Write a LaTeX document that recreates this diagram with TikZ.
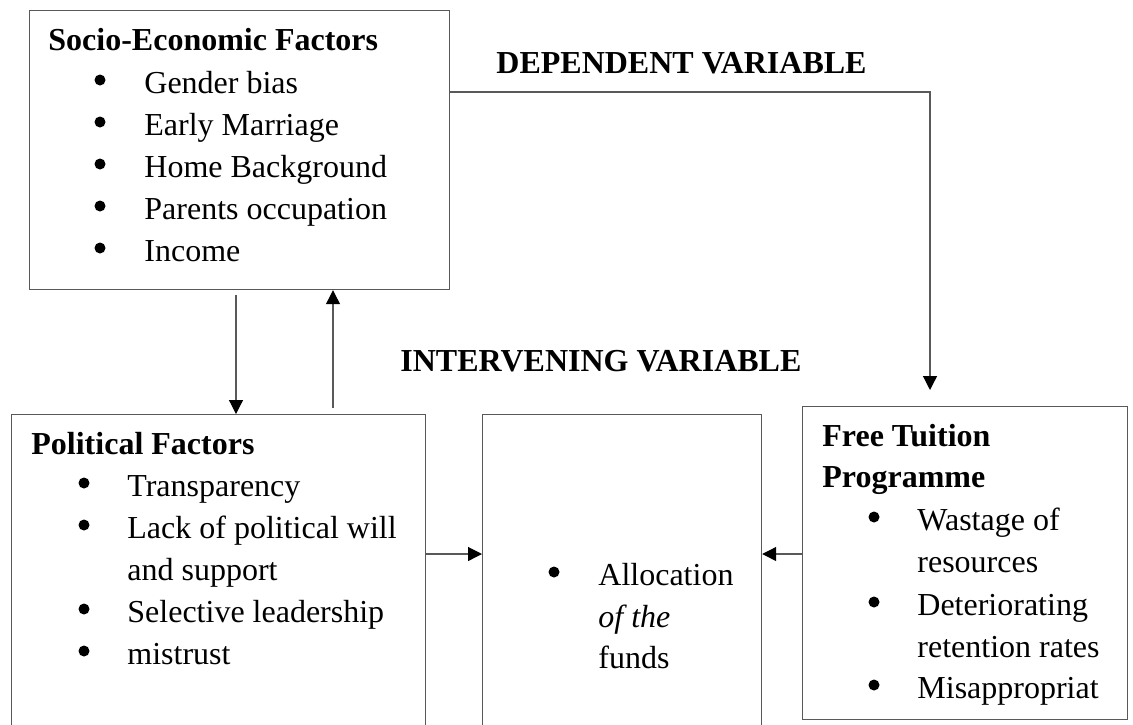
\documentclass[tikz,border=0pt]{standalone}
\usepackage{fontspec}
\setmainfont{Liberation Serif}
\usetikzlibrary{arrows.meta}
\tikzstyle{box} = [rectangle, draw=black!65, line width=0.6pt, anchor=north west, inner sep=0pt]
\tikzstyle{item} = [anchor=base west, inner sep=0pt, font=\fontsize{16pt}{21pt}\selectfont]
\tikzstyle{head} = [item, font=\fontsize{16pt}{21pt}\selectfont\bfseries]
\tikzstyle{dot} = [circle, fill=black, inner sep=0pt, minimum size=5.5pt]
\tikzstyle{arrow} = [line width=0.6pt, draw=black!65, -{Triangle[length=7pt, width=7pt, color=black]}]

\begin{document}
\begin{tikzpicture}[x=0.5pt, y=-0.5pt]
	\useasboundingbox (0,0) rectangle (1133,724);

	% boxes
	\node (socio) [box, minimum width=210pt, minimum height=139.5pt] at (29,10) {};
	\node (pol) [box, minimum width=207pt, minimum height=163pt] at (11,414) {};
	\node (alloc) [box, minimum width=139.5pt, minimum height=163pt] at (482,414) {};
	\node (tuit) [box, minimum width=162.5pt, minimum height=156.5pt] at (802,406) {};

	% socio-economic factors
	\node (sehead) [head] at (48,50) {Socio-Economic Factors};
	\foreach \y/\t [count=\i] in {93/Gender bias, 135/Early Marriage, 177/Home Background, 219/Parents occupation, 261/Income} {
		\node (se\i) [item] at (144,\y) {\t};
		\node (sedot\i) [dot] at (100,\y-13) {};
	}

	% political factors
	\node (pohead) [head] at (31,454) {Political Factors};
	\foreach \y/\b/\t [count=\i] in {496/1/Transparency, 538/1/Lack of political will, 580/0/and support, 622/1/Selective leadership, 664/1/mistrust} {
		\node (po\i) [item] at (127,\y) {\t};
		\ifnum\b=1 \node (podot\i) [dot] at (84,\y-13) {}; \fi
	}

	% allocation
	\node (al1) [item] at (598,585) {Allocation};
	\node (al2) [item] at (598,627) {\textit{of the}};
	\node (al3) [item] at (598,668) {funds};
	\node (aldot) [dot] at (554,572) {};

	% free tuition programme
	\node (fthead1) [head] at (822,446) {Free Tuition};
	\node (fthead2) [head] at (822,487) {Programme};
	\foreach \y/\b/\t [count=\i] in {530/1/Wastage of, 572/0/resources, 615/1/Deteriorating, 657/0/retention rates, 698/1/Misappropriat} {
		\node (ft\i) [item] at (917,\y) {\t};
		\ifnum\b=1 \node (ftdot\i) [dot] at (874,\y-13) {}; \fi
	}

	% variable labels
	\node (deplabel) [head] at (496,73) {DEPENDENT VARIABLE};
	\node (intlabel) [head] at (400,371) {INTERVENING VARIABLE};

	% connectors
	\coordinate (dtop) at (236,295);
	\coordinate (ubot) at (333,408);
	\coordinate (mid) at (0,554);
	\coordinate (dep) at (0,92);
	\coordinate (dtip) at (930,390);

	\draw [arrow] (dtop) -- (dtop |- pol.north);
	\draw [arrow] (ubot) -- (ubot |- socio.south);
	\draw [arrow] (pol.east |- mid) -- (alloc.west |- mid);
	\draw [arrow] (tuit.west |- mid) -- (alloc.east |- mid);
	\draw [arrow] (socio.east |- dep) -| (dtip);
\end{tikzpicture}
\end{document}
